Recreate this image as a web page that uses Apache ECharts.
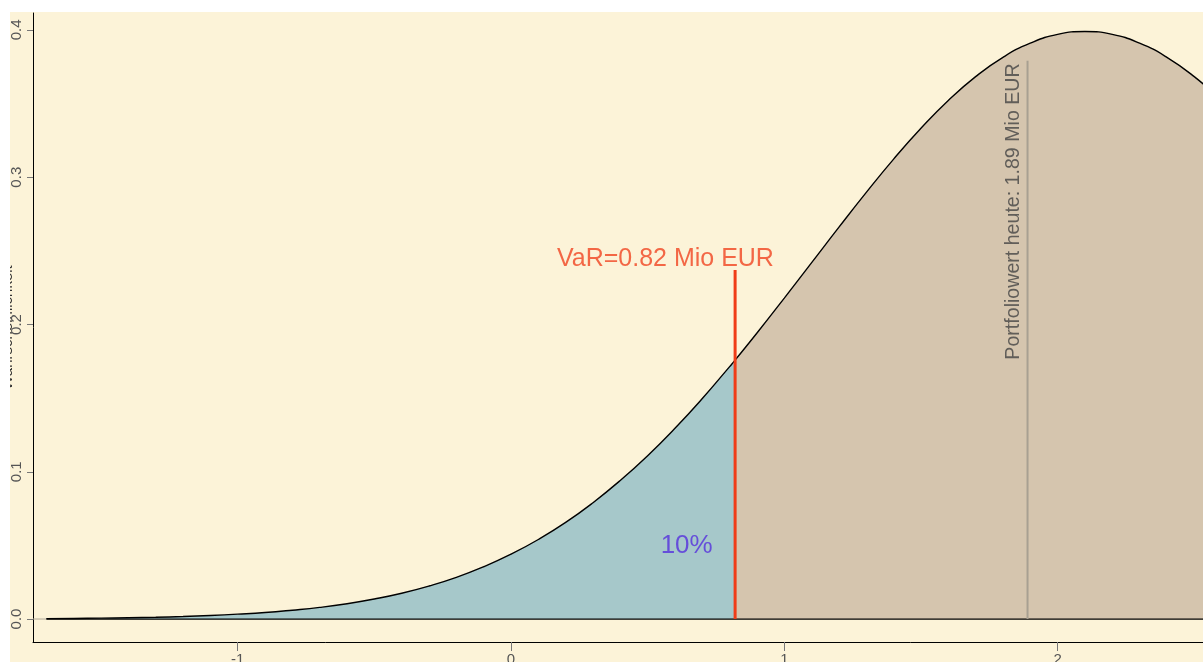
<!DOCTYPE html>
<html>
<head>
<meta charset="utf-8">
<script src="https://cdn.jsdelivr.net/npm/echarts@6/dist/echarts.min.js"></script>
<style>
html,body{margin:0;padding:0;background:#ffffff;}
#c{width:1203px;height:662px;}
</style>
</head>
<body>
<div id="c"></div>
<script>
// x positions (Mio EUR) and read density values
const xValues = [-1.7,-1.6,-1.5,-1.4,-1.3,-1.2,-1.1,-1.0,-0.9,-0.8,-0.7,-0.6,-0.5,-0.4,-0.3,-0.2,-0.1,0.0,0.1,0.2,0.3,0.4,0.5,0.6,0.7,0.8,0.82,0.9,1.0,1.1,1.2,1.3,1.4,1.5,1.6,1.7,1.8,1.9,2.0,2.1,2.2,2.3,2.4,2.5,2.6];
const density = [0.0003,0.0004,0.0006,0.0009,0.0012,0.0017,0.0024,0.0033,0.0044,0.0060,0.0079,0.0104,0.0136,0.0175,0.0224,0.0283,0.0355,0.0440,0.0540,0.0656,0.0790,0.0941,0.1109,0.1295,0.1497,0.1714,0.1758,0.1942,0.2179,0.2420,0.2661,0.2897,0.3123,0.3332,0.3521,0.3683,0.3814,0.3910,0.3970,0.3989,0.3970,0.3910,0.3814,0.3683,0.3521];
const varValue = 0.82;
const varLineTop = 0.237;
const portfolioValue = 1.89;
const portfolioLineTop = 0.379;
const xTicks = [-1, 0, 1, 2];
const yTicks = [0, 0.1, 0.2, 0.3, 0.4];
const varLabel = 'VaR=0.82 Mio EUR';
const portfolioLabel = 'Portfoliowert heute: 1.89 Mio EUR';
const tailLabel = '10%';
const yName = 'Wahrscheinlichkeit';

const pts = xValues.map((x, i) => [x, density[i]]);
const leftPts = pts.filter(p => p[0] <= varValue);
const rightPts = pts.filter(p => p[0] >= varValue);

const FONT = 'Liberation Sans, Arial, sans-serif';
const chart = echarts.init(document.getElementById('c'), null, {renderer: 'canvas'});
chart.setOption({
  backgroundColor: '#FCF3D8',
  animation: false,
  grid: {left: 33, right: 0, top: 13, bottom: 20, containLabel: false, outerBoundsMode: 'none'},
  xAxis: {
    type: 'value', min: -1.749, max: 2.532,
    axisLine: {show: true, onZero: false, lineStyle: {color: '#000', width: 1}},
    axisTick: {show: true, length: 9, customValues: xTicks, lineStyle: {color: '#777'}},
    axisLabel: {show: true, customValues: xTicks, margin: 10, fontSize: 15, color: '#555', fontFamily: FONT,
      formatter: v => String(Math.round(v))},
    splitLine: {show: false}
  },
  yAxis: {
    type: 'value', min: -0.0156, max: 0.4115,
    name: yName, nameLocation: 'middle', nameRotate: 90, nameGap: 18, nameMoveOverlap: false,
    nameTextStyle: {fontSize: 15, color: '#333', fontFamily: FONT},
    axisLine: {show: true, onZero: false, lineStyle: {color: '#000', width: 1}},
    axisTick: {show: true, length: 6, customValues: yTicks, lineStyle: {color: '#777'}},
    axisLabel: {show: true, customValues: yTicks, rotate: 90, margin: 9, fontSize: 15, color: '#555', fontFamily: FONT,
      formatter: v => v.toFixed(1)},
    splitLine: {show: false}
  },
  series: [
    {type: 'line', data: leftPts, smooth: true, symbol: 'none', lineStyle: {width: 0},
      areaStyle: {color: '#A6C8CA', opacity: 1}, z: 1},
    {type: 'line', data: rightPts, smooth: true, symbol: 'none', lineStyle: {width: 0},
      areaStyle: {color: '#D5C5AE', opacity: 1}, z: 1},
    {type: 'line', data: [[-1.749, 0], [xValues[0], 0]], symbol: 'none', lineStyle: {color: '#B0A898', width: 1}, z: 2},
    {type: 'line', data: [[xValues[0], 0], [xValues[xValues.length - 1], 0]], symbol: 'none', lineStyle: {color: '#000', width: 1.3}, z: 3},
    {type: 'line', data: pts, smooth: true, symbol: 'none', lineStyle: {color: '#000', width: 1.4}, z: 4},
    {type: 'line', data: [[portfolioValue, 0], [portfolioValue, portfolioLineTop]], symbol: 'none', lineStyle: {color: '#A8A092', width: 2}, z: 5},
    {type: 'line', data: [[varValue, 0], [varValue, varLineTop]], symbol: 'none', lineStyle: {color: '#F03C18', width: 3}, z: 6},
    {type: 'scatter', symbolSize: 0, z: 7, silent: true,
      data: [
        {value: [0.565, 0.236], label: {show: true, formatter: varLabel, position: 'inside', align: 'center', verticalAlign: 'bottom', fontSize: 25, color: '#F04420', fontFamily: FONT}},
        {value: [0.6427, 0.050], label: {show: true, formatter: tailLabel, position: 'inside', align: 'center', verticalAlign: 'middle', fontSize: 26, color: '#5530DD', fontFamily: FONT}},
        {value: [1.8386, 0.2767], label: {show: true, formatter: portfolioLabel, position: 'inside', rotate: 90, align: 'center', verticalAlign: 'middle', fontSize: 19.6, color: '#444', fontFamily: FONT}}
      ]}
  ],
  graphic: [
    {type: 'rect', left: 0, top: 0, shape: {width: 10, height: 662}, style: {fill: '#fff'}, z: 100, silent: true},
    {type: 'rect', left: 0, top: 0, shape: {width: 1203, height: 12}, style: {fill: '#fff'}, z: 100, silent: true}
  ]
});
</script>
</body>
</html>
